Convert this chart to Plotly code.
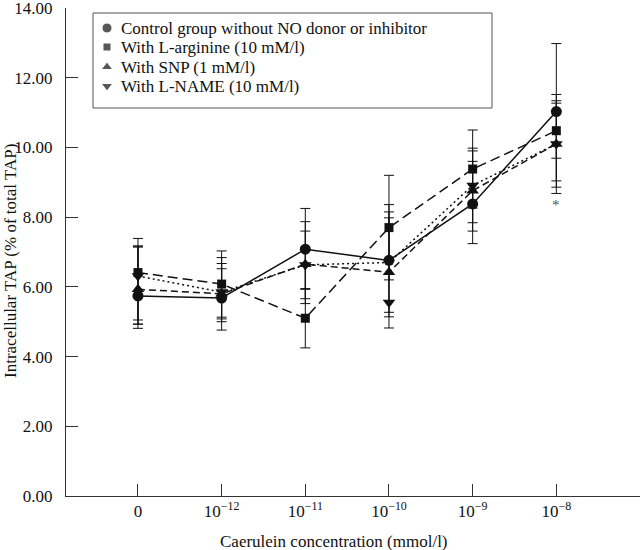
import plotly.graph_objects as go

# ---------------- data ----------------
categories = ["0", "10<sup>−12</sup>", "10<sup>−11</sup>", "10<sup>−10</sup>",
              "10<sup>−9</sup>", "10<sup>−8</sup>"]

y_ticks = [0, 2, 4, 6, 8, 10, 12, 14]

legend_labels = ["Control group without NO donor or inhibitor",
                 "With L-arginine (10 mM/l)",
                 "With SNP (1 mM/l)",
                 "With L-NAME (10 mM/l)"]

control_mean = [5.74, 5.68, 7.08, 6.76, 8.38, 11.03]
control_plus = [1.43, 0.99, 1.17, 1.60, 1.22, 1.95]
control_minus = [0.81, 0.92, 1.15, 1.62, 1.14, 1.99]

arginine_mean = [6.41, 6.08, 5.10, 7.70, 9.38, 10.48]
arginine_plus = [0.98, 0.95, 0.85, 1.50, 1.12, 0.79]
arginine_minus = [1.36, 0.95, 0.85, 1.50, 1.12, 0.79]

snp_mean = [5.93, 5.80, 6.65, 6.42, 8.76, 10.10]
snp_plus = [1.24, 0.72, 1.22, 1.56, 1.14, 1.42]
snp_minus = [1.00, 0.72, 1.13, 1.60, 1.16, 1.42]

lname_line = [6.31, 5.85, 6.63, 6.70, 8.91, 10.10]
lname_marker = [6.31, 5.85, 6.63, 5.55, 8.91, 10.10]
lname_plus = [0.83, 0.99, 0.97, 1.45, 1.07, 1.24]
lname_minus = [1.50, 0.85, 0.97, 1.43, 1.07, 1.24]

significance_mark = "*"
significance_value = 8.36
significance_index = 5

x_idx = list(range(len(categories)))

# ---------------- styling ----------------
FONT = "Liberation Serif"
FS = 17
INK = "#111111"
AXIS = "#333333"

W, H = 640, 550
ML, MR, MT, MB = 66, 0, 8, 54
PW, PH = W - ML - MR, H - MT - MB

def err(plus, minus):
    return dict(type="data", symmetric=False, array=plus, arrayminus=minus,
                color=INK, thickness=1, width=5)

fig = go.Figure()

series = [
    (arginine_mean, arginine_plus, arginine_minus, "10px,5px", "square", 9),
    (snp_mean, snp_plus, snp_minus, "7px,4px", "triangle-up", 11),
    (control_mean, control_plus, control_minus, "solid", "circle", 11),
]
for mean, plus, minus, dash, sym, size in series:
    fig.add_trace(go.Scatter(
        x=x_idx, y=mean, mode="lines+markers",
        line=dict(color=INK, width=1.5, dash=dash),
        marker=dict(symbol=sym, size=size, color=INK),
        error_y=err(plus, minus), showlegend=False, cliponaxis=False))

# L-NAME: dotted line with error bars, markers drawn at their own values
fig.add_trace(go.Scatter(
    x=x_idx, y=lname_line, mode="lines",
    line=dict(color=INK, width=1.5, dash="2px,3px"),
    error_y=err(lname_plus, lname_minus), showlegend=False))
fig.add_trace(go.Scatter(
    x=x_idx, y=lname_marker, mode="markers",
    marker=dict(symbol="triangle-down", size=11, color=INK),
    showlegend=False))

# significance asterisk
fig.add_annotation(x=x_idx[significance_index], y=significance_value,
                   text=significance_mark, showarrow=False,
                   font=dict(family=FONT, size=15, color="#555555"))

# ---------------- manual legend ----------------
box_l, box_r, box_t, box_b = 93, 492, 13, 108
row_y = [28, 47, 67, 86]
sym_x = 107
text_x = 119
legend_symbols = ["circle", "square", "triangle-up", "triangle-down"]
legend_sizes = [10, 8, 10, 10]

def px2paper_x(px):
    return (px - ML) / PW

def px2paper_y(py):
    return (H - MB - py) / PH

fig.add_shape(type="rect", xref="paper", yref="paper",
              x0=px2paper_x(box_l), x1=px2paper_x(box_r),
              y0=px2paper_y(box_b), y1=px2paper_y(box_t),
              line=dict(color="#555555", width=1), fillcolor="white", layer="below")

fig.add_trace(go.Scatter(
    x=[sym_x - ML] * len(legend_labels), y=[r - MT for r in row_y],
    xaxis="x2", yaxis="y2", mode="markers",
    marker=dict(symbol=legend_symbols, size=legend_sizes, color=INK),
    showlegend=False, hoverinfo="skip", cliponaxis=False))

for lab, r in zip(legend_labels, row_y):
    fig.add_annotation(xref="paper", yref="paper", x=px2paper_x(text_x),
                       y=px2paper_y(r), xanchor="left", yanchor="middle",
                       text=lab, showarrow=False,
                       font=dict(family=FONT, size=FS, color=INK))

# axis titles
fig.add_annotation(xref="paper", yref="paper", x=px2paper_x(334), y=px2paper_y(541),
                   xanchor="center", yanchor="middle", showarrow=False,
                   text="Caerulein concentration (mmol/l)",
                   font=dict(family=FONT, size=FS, color=INK))
fig.add_annotation(xref="paper", yref="paper", x=px2paper_x(10), y=px2paper_y(261),
                   xanchor="center", yanchor="middle", showarrow=False,
                   textangle=-90, text="Intracellular TAP (% of total TAP)",
                   font=dict(family=FONT, size=FS, color=INK))

fig.update_layout(
    width=W, height=H,
    margin=dict(l=ML, r=MR, t=MT, b=MB, autoexpand=False),
    paper_bgcolor="white", plot_bgcolor="white",
    font=dict(family=FONT, size=FS, color=INK),
    xaxis=dict(range=[-0.86, 6.0], tickvals=list(range(len(categories) + 1)),
               ticktext=categories + [""], ticks="inside", ticklen=12,
               tickcolor=AXIS, showline=True, linecolor=AXIS, linewidth=1,
               showgrid=False, zeroline=False, automargin=False,
               tickfont=dict(family=FONT, size=FS, color=INK)),
    yaxis=dict(range=[0, 14], tickvals=y_ticks, tickformat=".2f", ticks="inside",
               ticklen=12, tickcolor=AXIS, showline=True, linecolor=AXIS,
               linewidth=1, showgrid=False, zeroline=False, automargin=False,
               ticklabelstandoff=9, ticklabeloverflow="allow",
               tickfont=dict(family=FONT, size=FS, color=INK)),
    xaxis2=dict(range=[0, PW], overlaying="x", visible=False, fixedrange=True),
    yaxis2=dict(range=[PH, 0], overlaying="y", visible=False, fixedrange=True),
)

fig.write_html("out.html",
               config={"displayModeBar": False},
               post_script="document.body.style.margin='0';"
                           "document.body.style.overflow='hidden';")
